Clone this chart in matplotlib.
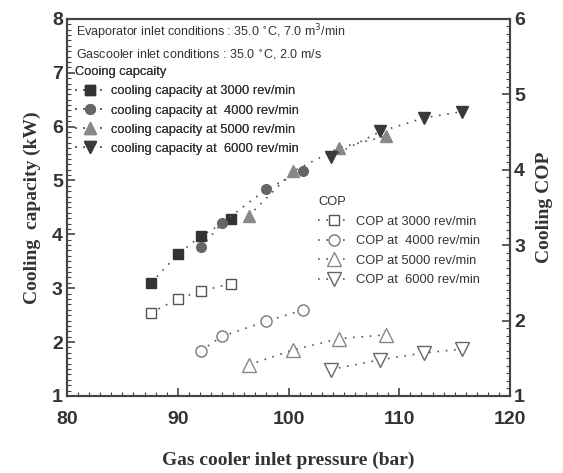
import numpy as np
import matplotlib.pyplot as plt
from matplotlib.ticker import MultipleLocator

# gas cooler inlet pressure (bar) for each compressor speed
p_3000 = [87.6, 90.0, 92.1, 94.8]
p_4000 = [92.1, 94.0, 98.0, 101.3]
p_5000 = [96.4, 100.4, 104.6, 108.8]
p_6000 = [103.8, 108.3, 112.2, 115.7]

# cooling capacity (kW)
cap_3000 = [3.10, 3.63, 3.97, 4.29]
cap_4000 = [3.76, 4.21, 4.84, 5.17]
cap_5000 = [4.34, 5.17, 5.61, 5.82]
cap_6000 = [5.44, 5.91, 6.16, 6.28]

# cooling COP
cop_3000 = [2.10, 2.29, 2.39, 2.49]
cop_4000 = [1.60, 1.79, 1.99, 2.14]
cop_5000 = [1.41, 1.61, 1.76, 1.81]
cop_6000 = [1.35, 1.48, 1.57, 1.62]

speeds = ["3000", " 4000", "5000", " 6000"]

plt.rcParams['font.family'] = ['Liberation Sans', 'DejaVu Sans']

fig = plt.figure(figsize=(5.63, 4.73), dpi=100)
ax = fig.add_axes([0.119, 0.163, 0.787, 0.797])
ax2 = ax.twinx()

dot = (0, (1, 4))
lc = "#555555"

# cooling capacity (filled markers)
cap_style = [("s", "#333333", 6.5), ("o", "#666666", 7), ("^", "#888888", 8), ("v", "#3a3a3a", 8)]
cap_handles = []
for p, c, (m, col, ms), s in zip([p_3000, p_4000, p_5000, p_6000],
                                 [cap_3000, cap_4000, cap_5000, cap_6000],
                                 cap_style, speeds):
    h, = ax.plot(p, c, linestyle=dot, color=lc, lw=1.2, marker=m, ms=ms,
                 mfc=col, mec=col, label="cooling capacity at " + s + " rev/min")
    cap_handles.append(h)

# COP (open markers) on right axis
cop_style = [("s", "#555555", 7.5), ("o", "#777777", 8), ("^", "#888888", 9.5), ("v", "#666666", 9.5)]
cop_handles = []
for p, c, (m, col, ms), s in zip([p_3000, p_4000, p_5000, p_6000],
                                 [cop_3000, cop_4000, cop_5000, cop_6000],
                                 cop_style, speeds):
    h, = ax2.plot(p, c, linestyle=dot, color=lc, lw=1.2, marker=m, ms=ms,
                  mfc="white", mec=col, mew=1.0, label="COP at " + s + " rev/min")
    cop_handles.append(h)

ax.set_xlim(80, 120)
ax.set_ylim(1, 8)
ax2.set_ylim(1, 6)

ax.xaxis.set_major_locator(MultipleLocator(10))
ax.xaxis.set_minor_locator(MultipleLocator(1))
ax.yaxis.set_major_locator(MultipleLocator(1))
ax.yaxis.set_minor_locator(MultipleLocator(0.1))
ax2.yaxis.set_major_locator(MultipleLocator(1))
ax2.yaxis.set_minor_locator(MultipleLocator(0.1))

for a in (ax, ax2):
    a.tick_params(which="both", direction="in", color="#444444", labelcolor="#333333",
                  labelsize=14)
    a.tick_params(which="major", length=6, width=1.2)
    a.tick_params(which="minor", length=3, width=0.8)
    for lab in a.get_xticklabels() + a.get_yticklabels():
        lab.set_fontweight("bold")
    for sp in a.spines.values():
        sp.set_color("#444444")
        sp.set_linewidth(1.5)
ax.tick_params(axis="x", pad=11)
ax.tick_params(axis="y", pad=3)
ax2.tick_params(axis="y", pad=3)

serif = ["Liberation Serif", "DejaVu Serif"]
ax.set_xlabel("Gas cooler inlet pressure (bar)", family=serif, fontsize=14,
              fontweight="bold", color="#333333", labelpad=17)
ax.set_ylabel("Cooling  capacity (kW)", family=serif, fontsize=14,
              fontweight="bold", color="#333333", labelpad=8)
ax2.set_ylabel("Cooling COP", family=serif, fontsize=14,
               fontweight="bold", color="#333333", labelpad=8)

# condition notes
ax.text(0.02, 0.965, "Evaporator inlet conditions : 35.0 $^{\\circ}$C, 7.0 m$^{3}$/min",
        transform=ax.transAxes, fontsize=9, color="#333333", va="center")
ax.text(0.02, 0.905, "Gascooler inlet conditions : 35.0 $^{\\circ}$C, 2.0 m/s",
        transform=ax.transAxes, fontsize=9, color="#333333", va="center")

leg1 = ax.legend(handles=cap_handles, title="Cooing capcaity", loc="upper left",
                 bbox_to_anchor=(0.0, 0.895), frameon=False, fontsize=9.3,
                 title_fontsize=9.3, handlelength=2.4, handletextpad=0.4,
                 labelspacing=0.55, borderaxespad=0.2, alignment="left",
                 labelcolor="#333333")
leg1.get_title().set_color("#333333")
ax.add_artist(leg1)

leg2 = ax2.legend(handles=cop_handles, title="COP", loc="upper left",
                  bbox_to_anchor=(0.55, 0.55), frameon=False, fontsize=9.3,
                  title_fontsize=9.3, handlelength=2.4, handletextpad=0.5,
                  labelspacing=0.58, borderaxespad=0.2, alignment="left",
                  labelcolor="#333333")
leg2.get_title().set_color("#333333")

fig.savefig("out.png", dpi=100)
